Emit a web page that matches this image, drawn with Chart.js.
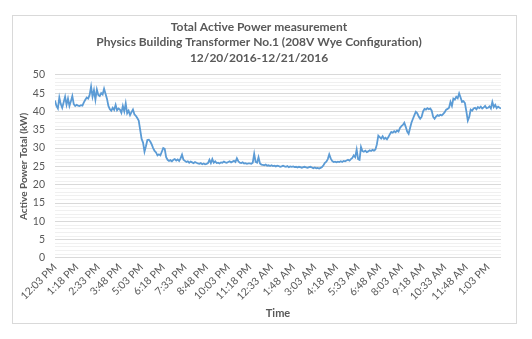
<!DOCTYPE html>
<html>
<head>
<meta charset="utf-8">
<script src="https://cdn.jsdelivr.net/npm/chart.js@4.4.1/dist/chart.umd.min.js"></script>
<style>
  html, body { margin: 0; padding: 0; background: #ffffff; }
  #wrap { position: relative; width: 532px; height: 339px; }
  #frame { position: absolute; left: 12px; top: 15px; width: 503px; height: 307px; border: 1px solid #d9d9d9; }
  #c { position: absolute; left: 0; top: 0; }
</style>
</head>
<body>
<div id="wrap">
  <div id="frame"></div>
  <canvas id="c" width="532" height="339"></canvas>
</div>
<script>
// Title lines
const titleLines = [
  "Total Active Power measurement",
  "Physics Building Transformer No.1 (208V Wye Configuration)",
  "12/20/2016-12/21/2016"
];
// X tick labels (every 75 minutes starting 12:03 PM)
const tickLabels = ["12:03 PM","1:18 PM","2:33 PM","3:48 PM","5:03 PM","6:18 PM","7:33 PM","8:48 PM","10:03 PM","11:18 PM","12:33 AM","1:48 AM","3:03 AM","4:18 AM","5:33 AM","6:48 AM","8:03 AM","9:18 AM","10:33 AM","11:48 AM","1:03 PM"];
const tickStepMinutes = 75;
const sampleStepMinutes = 5;
// Active power total (kW), one sample every 5 minutes from 12:03 PM
const powerKW = [
  43,41.5,40.8,43.8,42,41,42.5,44,41.8,43.5,41.5,42.8,44.2,42,41.5,
  41.8,41.6,41.5,41.7,41.6,42.5,43.2,43.8,43.5,44.5,46.8,44,45.8,43.2,46,
  44.5,44.2,45,44.6,46.2,44.8,43.5,41.5,40.6,40.2,41,40.4,41.8,40.3,40.8,
  40.5,39.6,41.5,40,42.2,39.5,40.2,39,39.8,40.5,39.2,38.8,38.2,37.5,35,
  32.5,31.5,29,30.5,32.2,32.3,31.8,31,30,29.2,28.8,28,28.3,28,29,
  30,29.8,27.5,26.8,26.5,26.7,26.4,26.8,27,26.6,26.9,26.5,27.2,28.2,26.8,
  26.5,26.2,26.4,26,26.3,26.1,25.9,26.2,26,25.8,25.7,25.9,25.6,25.8,25.6,
  25.7,25.9,26.8,25.9,27,26,26.4,25.9,26,25.8,26.1,26,26.3,26.1,26,
  26.2,26.4,26.1,26.3,26.5,26.2,27.2,26.4,26,25.9,26.1,25.8,25.9,25.7,25.8,
  25.8,25.7,26,28.4,26.2,26,27.5,25.8,25.5,25.4,25.3,25.5,25.2,25.3,25.1,
  25.3,25.1,25.2,25,25.2,25.1,24.9,25,25.2,25,24.9,25.1,24.8,25,24.9,
  25,24.8,24.9,24.7,24.9,24.8,24.6,24.8,24.9,24.7,24.6,24.8,24.9,24.7,24.5,
  24.7,24.5,24.6,24.4,24.6,24.8,25.3,26,26.3,27,28.3,27.2,26.5,26.2,26.3,
  26.1,26.3,26.2,26.4,26.2,26.5,26.4,26.6,26.8,26.6,27,27.3,28,27.5,29.6,
  27,26.8,30.3,29.2,29,29.3,28.9,29.1,29.4,29.2,29.5,29.3,29.6,31,33.4,
  33,32.6,33.2,32.5,32.8,32.4,33,33.8,34.4,34.2,34.6,34.3,34.8,34.5,35.5,
  36,36.3,36.9,35.8,34.5,33.9,35.5,37,38,39,39.9,39.5,38.6,38,38.5,
  40,40.7,40.5,40.9,40.6,40.8,40.2,38.5,38,38.6,39,38.8,39.1,38.9,39.3,
  39.8,40.5,40.7,41,42.6,41.5,43.5,43.2,44,43.6,44.9,43.8,42.6,42.8,42.3,
  40,37.5,38.5,40.5,40.2,40.8,41,40.6,41.2,40.9,41.3,40.8,41.1,41.5,40.9,
  41,41.4,40.8,42.6,41.2,41.8,40.9,41.3,41,40.8
];

const points = powerKW.map((v, i) => ({ x: i * sampleStepMinutes, y: v }));
const xMax = (powerKW.length - 1) * sampleStepMinutes;

const textColor = '#595959';

new Chart(document.getElementById('c'), {
  type: 'line',
  data: {
    datasets: [{
      data: points,
      borderColor: '#5b9bd5',
      borderWidth: 1.8,
      pointRadius: 0,
      tension: 0,
      fill: false
    }]
  },
  options: {
    responsive: false,
    animation: false,
    events: [],
    layout: { padding: { left: 17, right: 31, top: 18, bottom: 19 } },
    plugins: {
      legend: { display: false },
      tooltip: { enabled: false },
      title: {
        display: true,
        text: titleLines,
        color: textColor,
        font: { family: 'Lato', size: 12, weight: 'bold', lineHeight: 1.3 },
        padding: { top: 1, bottom: 9 }
      }
    },
    scales: {
      x: {
        type: 'linear',
        min: 0,
        max: xMax,
        afterBuildTicks: (scale) => {
          scale.ticks = tickLabels.map((_, i) => ({ value: i * tickStepMinutes }));
        },
        ticks: {
          autoSkip: false,
          minRotation: 45,
          maxRotation: 45,
          color: textColor,
          font: { family: 'Lato', size: 10.5 },
          padding: 3,
          callback: (v) => tickLabels[Math.round(v / tickStepMinutes)]
        },
        grid: { display: false, drawTicks: false },
        border: { display: false },
        title: {
          display: true,
          text: 'Time',
          color: textColor,
          font: { family: 'Lato', size: 11, weight: 'bold' },
          padding: { top: 1, bottom: 0 }
        }
      },
      y: {
        min: 0,
        max: 50,
        afterFit: (scale) => { scale.width = 38; },
        ticks: {
          stepSize: 1,
          autoSkip: false,
          color: textColor,
          font: { family: 'Lato', size: 10.5 },
          padding: 10,
          callback: (v) => (v % 5 === 0 ? String(v) : '')
        },
        grid: {
          drawTicks: false,
          color: (ctx) => (ctx.tick && ctx.tick.value % 5 === 0 ? '#d9d9d9' : '#f0f0f0'),
          lineWidth: 1
        },
        border: { display: false },
        title: {
          display: true,
          text: 'Active Power Total (kW)',
          color: textColor,
          font: { family: 'Lato', size: 10, weight: 'bold' },
          padding: { top: 1, bottom: 0 }
        }
      }
    }
  }
});
</script>
</body>
</html>
